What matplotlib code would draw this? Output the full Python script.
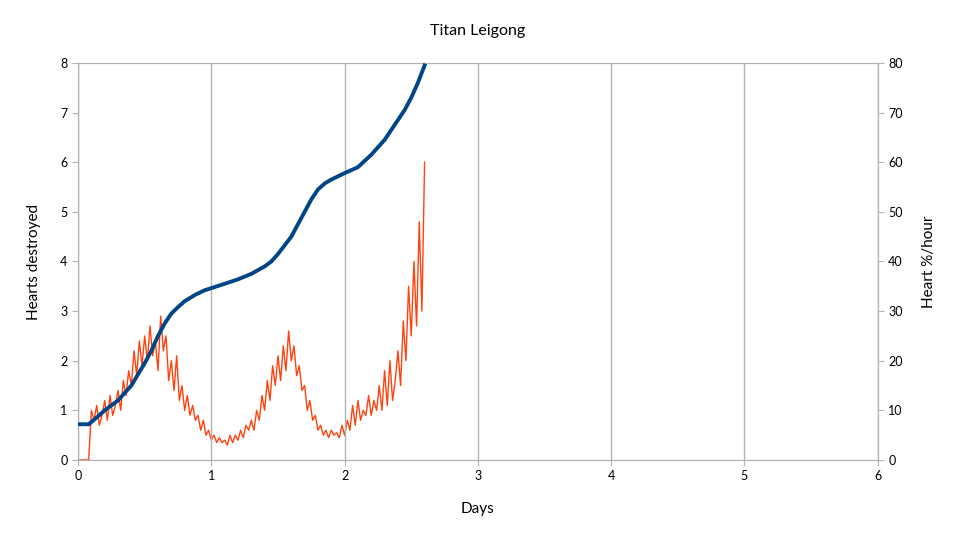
import numpy as np
import matplotlib
matplotlib.use("Agg")
import matplotlib.pyplot as plt

plt.rcParams["font.family"] = "Lato"

blue_days = [0, 0.08, 0.15, 0.2, 0.3, 0.4, 0.5, 0.55, 0.6, 0.65, 0.7, 0.75, 0.8, 0.88, 0.95, 1.1, 1.2, 1.3, 1.4, 1.45, 1.5, 1.6, 1.7, 1.75, 1.8, 1.85, 1.9, 2.0, 2.1, 2.2, 2.3, 2.4, 2.45, 2.5, 2.55, 2.6]
blue_hearts = [0.72, 0.72, 0.88, 1.0, 1.2, 1.5, 1.95, 2.2, 2.5, 2.75, 2.95, 3.08, 3.2, 3.33, 3.42, 3.55, 3.64, 3.75, 3.9, 4.0, 4.15, 4.5, 5.0, 5.25, 5.45, 5.57, 5.65, 5.78, 5.9, 6.15, 6.45, 6.85, 7.05, 7.3, 7.6, 7.95]

rate_start_days = [0, 0.08]
rate_start = [0, 0]
rate_vals = [10, 8, 11, 7, 9, 12, 8, 13, 9, 11,
             14, 10, 16, 13, 18, 15, 22, 17, 24, 19,
             25, 20, 27, 21, 24, 18, 29, 22, 25, 16,
             20, 14, 21, 12, 15, 10, 13, 9, 11, 8,
             9, 6, 8, 5, 6, 4, 5, 3.5, 4.5, 3.5,
             4, 3, 5, 3.5, 5, 4, 6, 4.5, 7, 6,
             8, 6, 10, 8, 13, 10, 16, 12, 19, 15,
             21, 16, 23, 18, 26, 20, 23, 17, 19, 14,
             15, 10, 12, 8, 9, 6, 7, 5, 6, 4.5,
             6, 5, 5.5, 4.5, 7, 5, 8, 6, 11, 7,
             12, 8, 10, 9, 13, 9, 12, 10, 15, 10,
             18, 11, 20, 12, 16, 22, 15, 28, 20, 35,
             25, 40, 27, 48, 30, 60]
rate_days = list(rate_start_days) + list(np.round(0.10 + 0.02 * np.arange(len(rate_vals)), 2))
rate = rate_start + rate_vals

fig = plt.figure(figsize=(9.67, 5.38), dpi=100)
ax = fig.add_axes([0.0807, 0.145, 0.827, 0.738])
ax2 = ax.twinx()
ax2.plot(rate_days, rate, color="#ff420e", lw=1.0)
ax.plot(blue_days, blue_hearts, color="#004586", lw=2.8, zorder=5)
ax.set_zorder(ax2.get_zorder() + 1)
ax.patch.set_visible(False)

ax.set_xlim(0, 6)
ax.set_ylim(0, 8)
ax2.set_ylim(0, 80)
ax.set_xticks(range(7))
ax.set_yticks(range(9))
ax2.set_yticks(range(0, 81, 10))
ax.grid(axis="x", color="#b3b3b3", lw=1)
for a in (ax, ax2):
    for s in a.spines.values():
        s.set_color("#b3b3b3")
    a.tick_params(colors="#b3b3b3", labelcolor="black", labelsize=9, length=4)
ax.set_xlabel("Days", fontsize=11, labelpad=14)
ax.set_ylabel("Hearts destroyed", fontsize=11, labelpad=14)
ax2.set_ylabel("Heart %/hour", fontsize=11, labelpad=14)
ax.set_title("Titan Leigong", fontsize=11.5, pad=20)
fig.savefig("out.png")
